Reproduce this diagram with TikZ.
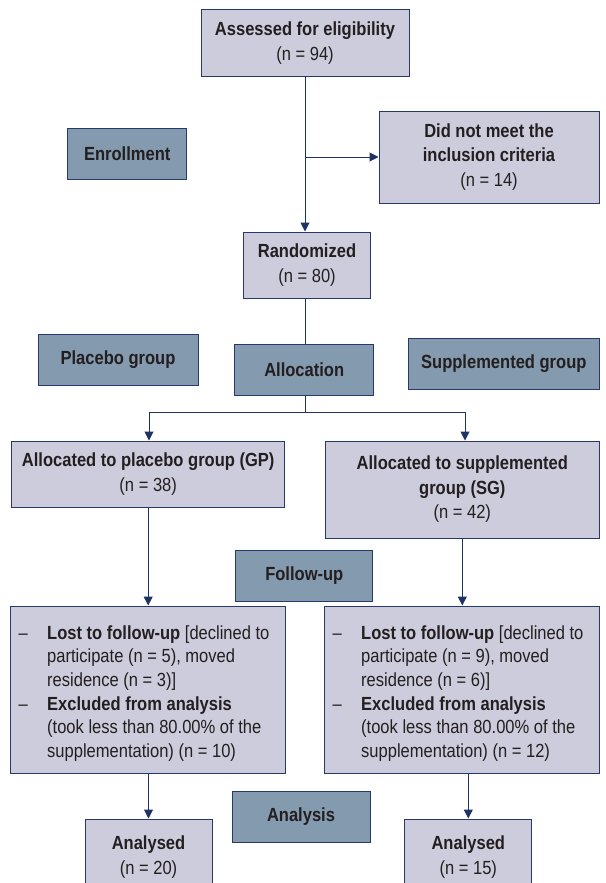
\documentclass[tikz,border=0pt]{standalone}
\usepackage{fontspec}
\setmainfont{Liberation Sans}[FakeStretch=0.87]
\usetikzlibrary{arrows.meta}
\definecolor{lightc}{RGB}{205,204,220}
\definecolor{darkc}{RGB}{132,154,175}
\definecolor{bordc}{RGB}{40,56,104}
\definecolor{linec}{RGB}{30,50,100}
\definecolor{textc}{RGB}{35,31,32}
\tikzset{
  every node/.style={font=\fontsize{19}{24.5}\selectfont, text=textc},
  lbox/.style={draw=bordc, fill=lightc, line width=1pt, inner sep=0pt, align=center},
  dbox/.style={draw=bordc, fill=darkc, line width=1pt, inner sep=0pt, align=center},
  listtext/.style={inner sep=0pt, anchor=north west, font=\fontsize{19}{23.6}\selectfont},
  conn/.style={draw=linec, line width=1pt},
  arr/.style={conn, -{Triangle[width=9pt,length=9pt]}}
}
\begin{document}
\begin{tikzpicture}[x=1pt,y=-1pt]
\useasboundingbox (0,0) rectangle (605,883);
\clip (0,0) rectangle (605,883);
% light boxes
\node[lbox, minimum width=208, minimum height=66] (assess) at (305,43) {\textbf{Assessed for eligibility}\\(n = 94)};
\node[lbox, minimum width=220, minimum height=92] (notmeet) at (489,157) {\textbf{Did not meet the}\\\textbf{inclusion criteria}\\(n = 14)};
\node[lbox, minimum width=127.5, minimum height=66] (rand) at (307,265) {\textbf{Randomized}\\(n = 80)};
\node[lbox, minimum width=273, minimum height=66] (gp) at (148.2,474) {\textbf{Allocated to placebo group (GP)}\\(n = 38)};
\node[lbox, minimum width=273.4, minimum height=97] (sg) at (462.3,489.5) {\textbf{Allocated to supplemented}\\\textbf{group (SG)}\\(n = 42)};
\node[lbox, minimum width=274.7, minimum height=167] (lostL) at (148.2,689.5) {};
\node[lbox, minimum width=274.2, minimum height=167] (lostR) at (461.9,689.5) {};
\node[lbox, minimum width=127, minimum height=76] (analL) at (148.5,857) {\textbf{Analysed}\\(n = 20)};
\node[lbox, minimum width=127, minimum height=76] (analR) at (468.3,857) {\textbf{Analysed}\\(n = 15)};
% list texts
\node[listtext] (lostLt) at (18.5,622.5) {\begin{tabular}{@{}p{28.5pt}@{}l@{}}
\textendash&\textbf{Lost to follow-up} [declined to\\
&participate (n = 5), moved\\
&residence (n = 3)]\\
\textendash&\textbf{Excluded from analysis}\\
&(took less than 80.00\% of the\\
&supplementation) (n = 10)
\end{tabular}};
\node[listtext] (lostRt) at (332.5,622.5) {\begin{tabular}{@{}p{28.5pt}@{}l@{}}
\textendash&\textbf{Lost to follow-up} [declined to\\
&participate (n = 9), moved\\
&residence (n = 6)]\\
\textendash&\textbf{Excluded from analysis}\\
&(took less than 80.00\% of the\\
&supplementation) (n = 12)
\end{tabular}};
% dark boxes
\node[dbox, minimum width=119.5, minimum height=51] (enroll) at (127.2,153.5) {\textbf{Enrollment}};
\node[dbox, minimum width=138.5, minimum height=51] (alloc) at (304.2,369.5) {\textbf{Allocation}};
\node[dbox, minimum width=160, minimum height=51] (placebo) at (118,359.5) {\textbf{Placebo group}};
\node[dbox, minimum width=190.5, minimum height=51] (suppl) at (503.8,363.5) {\textbf{Supplemented group}};
\node[dbox, minimum width=137, minimum height=51] (follow) at (304.3,575.5) {\textbf{Follow-up}};
\node[dbox, minimum width=138, minimum height=51] (analysis) at (301,816.5) {\textbf{Analysis}};
% connectors
\coordinate (branch) at (assess.south |- notmeet.west);
\draw[arr] (assess.south) -- (assess.south |- rand.north);
\draw[arr] (branch) -- (notmeet.west);
\draw[conn] (assess.south |- rand.south) -- (assess.south |- alloc.north);
\coordinate (split) at (305,412);
\coordinate (splitL) at (149,412);
\coordinate (splitR) at (465,412);
\draw[conn] (alloc.south -| split) -- (split);
\draw[arr] (split) -- (splitL) -- (splitL |- gp.north);
\draw[arr] (split) -- (splitR) -- (splitR |- sg.north);
\draw[arr] (gp.south) -- (gp.south |- lostL.north);
\draw[arr] (sg.south) -- (sg.south |- lostR.north);
\draw[arr] (analL.north |- lostL.south) -- (analL.north);
\draw[arr] (analR.north |- lostR.south) -- (analR.north);
\end{tikzpicture}
\end{document}
